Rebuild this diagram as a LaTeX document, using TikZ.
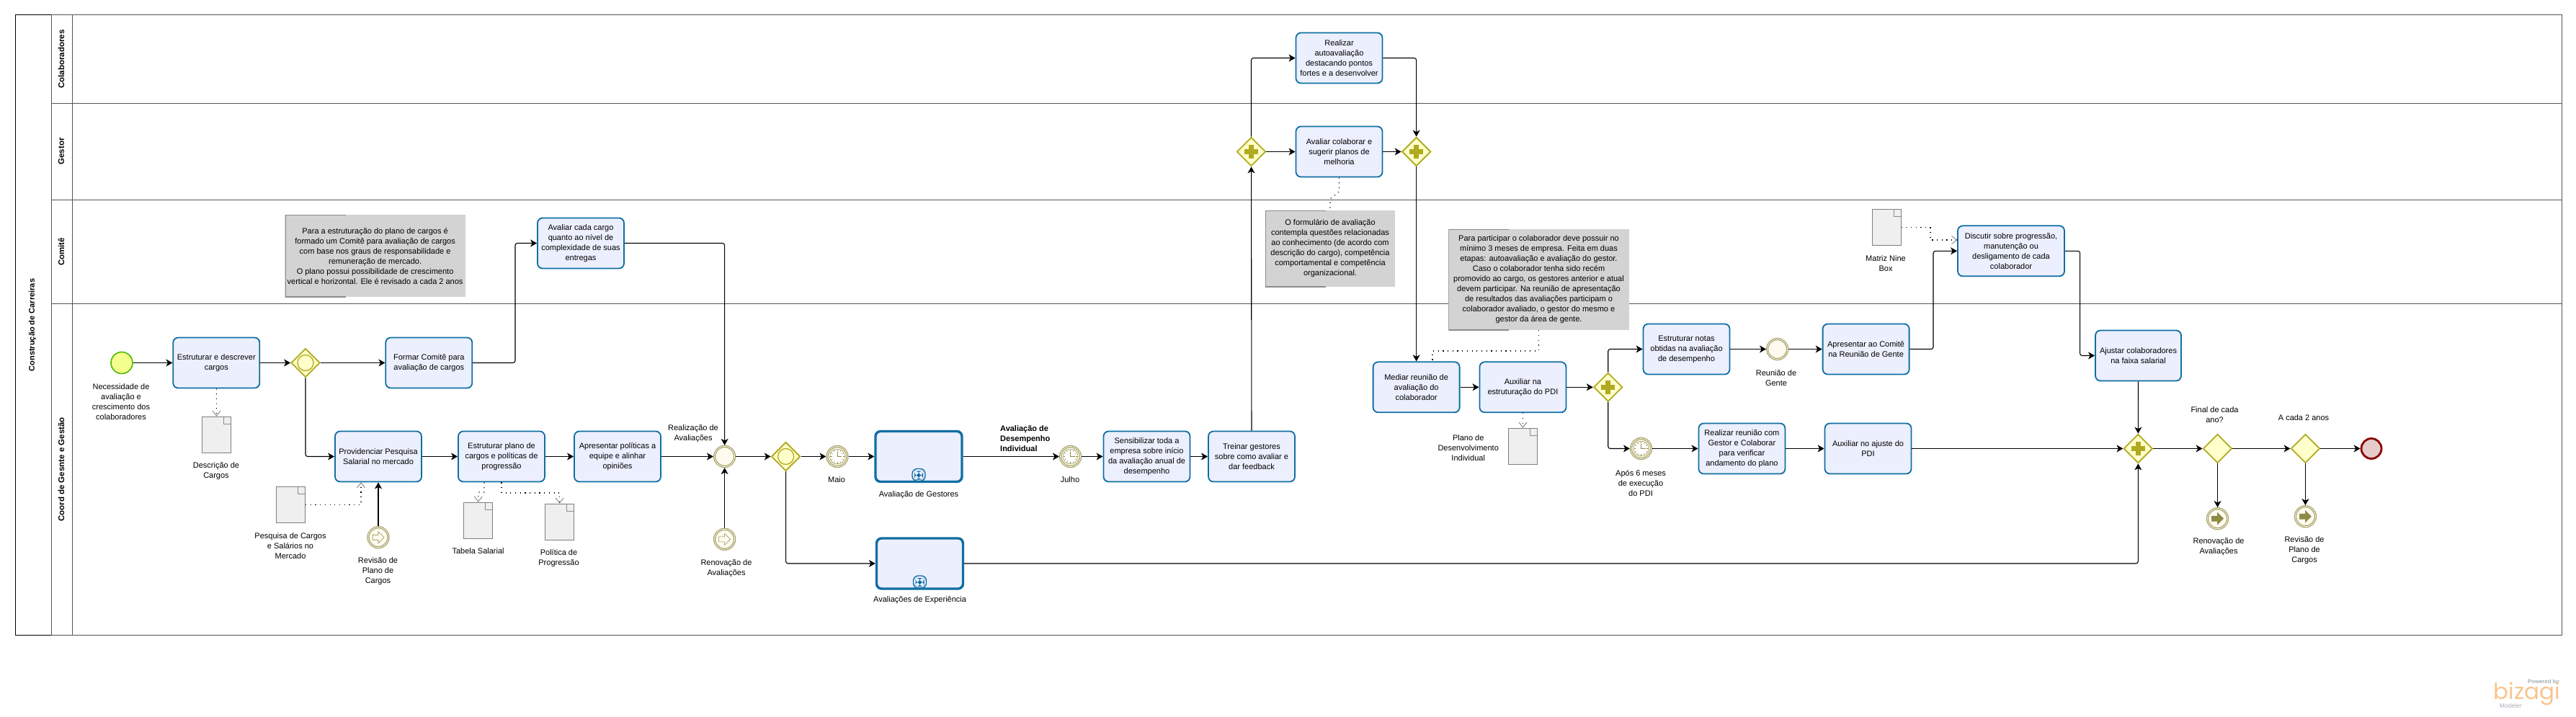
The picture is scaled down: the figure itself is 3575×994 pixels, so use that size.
\documentclass[tikz,border=0pt]{standalone}
\usepackage{fontspec}
\setmainfont{Liberation Sans}
\newfontfamily\logofont{Poppins}
\usetikzlibrary{arrows.meta,shapes.geometric,shapes.misc}

\definecolor{taskfill}{HTML}{ECEFFE}
\definecolor{taskline}{HTML}{0F6EA3}
\definecolor{gwfill}{HTML}{FFFFCC}
\definecolor{gwline}{HTML}{B0AA20}
\definecolor{evring}{HTML}{A39D5C}
\definecolor{evfill}{HTML}{FFFBF0}
\definecolor{evicon}{HTML}{8F8A45}
\definecolor{lanegray}{HTML}{555555}
\definecolor{notefill}{HTML}{D3D3D3}
\definecolor{notegray}{HTML}{8C8C8C}
\definecolor{docfill}{HTML}{EFEFEF}
\definecolor{logoorange}{HTML}{F9C48F}
\definecolor{logogray}{HTML}{A6AEB6}

\tikzset{
  base/.style={align=center,font=\fontsize{11}{14}\selectfont},
  lbl/.style={base,inner sep=0pt},
  lanelbl/.style={inner sep=0pt,rotate=90,font=\fontsize{11.5}{14}\selectfont\bfseries},
  taskbox/.style={base,rectangle,rounded corners=7pt,draw=taskline,fill=taskfill,line width=1.8pt,
    minimum width=120pt,minimum height=70pt,inner sep=0pt},
  subbox/.style={taskbox,line width=3.4pt,path picture={
    \draw[taskline,line width=1.4pt,fill=taskfill] ([xshift=-9pt,yshift=1pt]path picture bounding box.south)
      rectangle ([xshift=9pt,yshift=18pt]path picture bounding box.south);
    \fill[taskline] ([xshift=-1.8pt,yshift=3pt]path picture bounding box.south) rectangle ([xshift=1.8pt,yshift=15pt]path picture bounding box.south);
    \fill[taskline] ([xshift=-6pt,yshift=7.2pt]path picture bounding box.south) rectangle ([xshift=6pt,yshift=10.8pt]path picture bounding box.south);}},
  notebox/.style={base,rectangle,fill=notefill,inner sep=0pt,path picture={
    \draw[notegray,line width=2pt] ([xshift=84pt]path picture bounding box.north west) -- (path picture bounding box.north west)
      -- (path picture bounding box.south west) -- ([xshift=84pt]path picture bounding box.south west);}},
  docbox/.style={chamfered rectangle,chamfered rectangle corners=north east,chamfered rectangle xsep=10pt,
    chamfered rectangle ysep=10pt,draw=notegray!90!black,fill=docfill,line width=1pt,minimum width=40pt,minimum height=50pt,
    inner sep=0pt,path picture={
    \draw[notegray,line width=.6pt] ([xshift=-10pt]path picture bounding box.north east) -- ++(0,-10pt) -- ++(10pt,0);}},
  gwbox/.style={diamond,aspect=1,draw=gwline,fill=gwfill,line width=1.8pt,minimum width=40pt,minimum height=40pt,inner sep=0pt},
  gwplus/.style={gwbox,path picture={
    \fill[gwline] ([xshift=-3.5pt,yshift=-9.5pt]path picture bounding box.center) rectangle ([xshift=3.5pt,yshift=9.5pt]path picture bounding box.center);
    \fill[gwline] ([xshift=-9.5pt,yshift=-3.5pt]path picture bounding box.center) rectangle ([xshift=9.5pt,yshift=3.5pt]path picture bounding box.center);}},
  gwring/.style={gwbox,path picture={
    \draw[gwline,line width=1.3pt] (path picture bounding box.center) circle (11pt);}},
  startev/.style={circle,draw=green!55!black!60!lime,fill=lime!35!yellow!45!white,line width=1.6pt,minimum size=30pt,inner sep=0pt},
  endev/.style={circle,draw=red!55!black,fill=red!35!gray!30!white,line width=2.8pt,minimum size=28pt,inner sep=0pt},
  catchev/.style={circle,draw=evring,fill=evfill,double=white,double distance=.8pt,line width=1.2pt,minimum size=28pt,inner sep=0pt,outer sep=1.6pt},
  timerev/.style={catchev,path picture={
    \begin{scope}[shift={(path picture bounding box.center)}]
      \draw[evicon,line width=.5pt,fill=white] (0,0) circle (10.5pt);
      \foreach \ang in {0,30,...,330} \draw[evicon,line width=.5pt] (\ang:7.5) -- (\ang:10);
      \draw[evicon,line width=.5pt] (0,0) -- (0,-7) (0,0) -- (6,0);
    \end{scope}}},
  linkev/.style={catchev,path picture={
    \begin{scope}[shift={(path picture bounding box.center)}]
      \draw[evicon,line width=.6pt,fill=#1] (-8,-3.5) -- (0,-3.5) -- (0,-8) -- (8,0) -- (0,8) -- (0,3.5) -- (-8,3.5) -- cycle;
    \end{scope}}},
  flowline/.style={black,line width=1.1pt,rounded corners=3pt,-{Stealth[length=9pt,width=10pt,inset=2.5pt]}},
  assocline/.style={black,line width=1.1pt,dash pattern=on 1.2pt off 5.5pt,
    -{Straight Barb[length=7pt,width=11pt,line width=.6pt,color=lanegray]}},
  noteline/.style={black,line width=1.1pt,dash pattern=on 1.2pt off 5.5pt},
  laneline/.style={lanegray,line width=1pt}
}

\begin{document}
\begin{tikzpicture}[x=1pt,y=-1pt]
  \useasboundingbox (0,0) rectangle (3575,994);
  % pool and lanes
  \draw[laneline] (21,20) rectangle (3555,881);
  \draw[laneline] (71,20) -- (71,881) (100.5,20) -- (100.5,881);
  \draw[laneline] (71,143) -- (3555,143) (71,277) -- (3555,277) (71,421) -- (3555,421);
  \draw[black,line width=1pt] (71,20) -- (21,20) -- (21,881) -- (71,881);
  \node[lanelbl,font=\fontsize{11}{14}\selectfont\bfseries] (pooltitle) at (45,451) {Construção de Carreiras};
  \node[lanelbl] (lanecol) at (85,82) {Colaboradores};
  \node[lanelbl] (lanegest) at (85,210) {Gestor};
  \node[lanelbl] (lanecom) at (85,349.5) {Comitê};
  \node[lanelbl] (lanecoord) at (85,651.5) {Coord de Gesnte e Gestão};

  % notes
  \node[notebox,minimum width=250pt,minimum height=114pt] (nota) at (520.6,355) {Para a estruturação do plano de cargos é\\formado um Comitê para avaliação de cargos\\com base nos graus de responsabilidade e\\remuneração de mercado.\\O plano possui possibilidade de crescimento\\vertical e horizontal. Ele é revisado a cada 2 anos};
  \node[notebox,minimum width=180pt,minimum height=106pt] (notb) at (1846,345) {O formulário de avaliação\\contempla questões relacionadas\\ao conhecimento (de acordo com\\descrição do cargo), competência\\comportamental e competência\\organizacional.};
  \node[notebox,minimum width=250.5pt,minimum height=140pt] (notc) at (2135.5,388) {Para participar o colaborador deve possuir no\\mínimo 3 meses de empresa. Feita em duas\\etapas: autoavaliação e avaliação do gestor.\\Caso o colaborador tenha sido recém\\promovido ao cargo, os gestores anterior e atual\\devem participar. Na reunião de apresentação\\de resultados das avaliações participam o\\colaborador avaliado, o gestor do mesmo e\\gestor da área de gente.};

  % events
  \node[startev] (inicio) at (169,503.5) {};
  \node[catchev] (evreal) at (1005.6,633.5) {};
  \node[linkev=evfill] (evrenov) at (1005.6,748.3) {};
  \node[linkev=evfill] (evrevis) at (525,745.7) {};
  \node[timerev] (evmaio) at (1162,633.5) {};
  \node[timerev] (evjulho) at (1485.6,633.5) {};
  \node[catchev] (evgente) at (2466.6,484.5) {};
  \node[timerev] (evapos) at (2277.5,622.5) {};
  \node[linkev=evicon] (evrenovb) at (3077.5,719.7) {};
  \node[linkev=evicon] (evrevisb) at (3199.4,716.7) {};
  \node[endev] (fim) at (3291,622.5) {};

  % gateways
  \node[gwring] (gwa) at (424,503.5) {};
  \node[gwring] (gwb) at (1090.6,633.5) {};
  \node[gwplus] (gwc) at (1736.5,210.5) {};
  \node[gwplus] (gwd) at (1965.6,210.5) {};
  \node[gwplus] (gwe) at (2231.7,537.3) {};
  \node[gwplus] (gwf) at (2967.3,622.5) {};
  \node[gwbox] (gwg) at (3077.5,622.5) {};
  \node[gwbox] (gwh) at (3199.4,622.5) {};

  % tasks
  \node[taskbox] (estc) at (300.3,503.5) {Estruturar e descrever\\cargos};
  \node[taskbox] (form) at (595.3,503.5) {Formar Comitê para\\avaliação de cargos};
  \node[taskbox] (avac) at (806,337.5) {Avaliar cada cargo\\quanto ao nível de\\complexidade de suas\\entregas};
  \node[taskbox] (prov) at (525,633.5) {Providenciar Pesquisa\\Salarial no mercado};
  \node[taskbox] (estp) at (696,633.5) {Estruturar plano de\\cargos e políticas de\\progressão};
  \node[taskbox] (apre) at (857,633.5) {Apresentar políticas a\\equipe e alinhar\\opiniões};
  \node[subbox] (subg) at (1275,633.5) {};
  \node[subbox] (sube) at (1276.5,782) {};
  \node[taskbox] (sens) at (1591.5,633.5) {Sensibilizar toda a\\empresa sobre início\\da avaliação anual de\\desempenho};
  \node[taskbox] (trei) at (1737,633.5) {Treinar gestores\\sobre como avaliar e\\dar feedback};
  \node[taskbox] (real) at (1858.5,80.5) {Realizar\\autoavaliação\\destacando pontos\\fortes e a desenvolver};
  \node[taskbox] (avcl) at (1858.5,210.5) {Avaliar colaborar e\\sugerir planos de\\melhoria};
  \node[taskbox] (medi) at (1965.6,537.3) {Mediar reunião de\\avaliação do\\colaborador};
  \node[taskbox] (auxi) at (2113.4,537.3) {Auxiliar na\\estruturação do PDI};
  \node[taskbox] (estn) at (2340.5,484.5) {Estruturar notas\\obtidas na avaliação\\de desempenho};
  \node[taskbox] (apco) at (2589.6,484.5) {Apresentar ao Comitê\\na Reunião de Gente};
  \node[taskbox] (reun) at (2417.4,622.5) {Realizar reunião com\\Gestor e Colaborar\\para verificar\\andamento do plano};
  \node[taskbox] (auaj) at (2592.5,622.5) {Auxiliar no ajuste do\\PDI};
  \node[taskbox,minimum width=148pt] (disc) at (2791,348.3) {Discutir sobre progressão,\\manutenção ou\\desligamento de cada\\colaborador};
  \node[taskbox,minimum width=119pt] (ajus) at (2967.5,493.5) {Ajustar colaboradores\\na faixa salarial};

  % documents
  \node[docbox] (docd) at (300.5,603) {};
  \node[docbox] (docp) at (403.5,700.3) {};
  \node[docbox] (doct) at (663.6,722) {};
  \node[docbox] (docg) at (776.7,724) {};
  \node[docbox] (docm) at (2113.4,619) {};
  \node[docbox] (docn) at (2618,315.5) {};

  % labels
  \node[lbl] (tinicio) at (168,558) {Necessidade de\\avaliação e\\crescimento dos\\colaboradores};
  \node[lbl] (tdocd) at (300,654) {Descrição de\\Cargos};
  \node[lbl] (tdocp) at (403,758) {Pesquisa de Cargos\\e Salários no\\Mercado};
  \node[lbl] (trevis) at (524.5,793) {Revisão de\\Plano de\\Cargos};
  \node[lbl] (tdoct) at (663.6,765) {Tabela Salarial};
  \node[lbl] (tdocg) at (775.5,775) {Política de\\Progressão};
  \node[lbl] (treal) at (962,602) {Realização de\\Avaliações};
  \node[lbl] (trenov) at (1008,789) {Renovação de\\Avaliações};
  \node[lbl] (tmaio) at (1161,666) {Maio};
  \node[lbl] (tsubg) at (1275,687) {Avaliação de Gestores};
  \node[lbl] (tsube) at (1276.6,833) {Avaliações de Experiência};
  \node[lbl,anchor=west,align=left,font=\fontsize{11}{14}\selectfont\bfseries] (tdes) at (1388,609) {Avaliação de\\Desempenho\\Individual};
  \node[lbl] (tjulho) at (1485,666) {Julho};
  \node[lbl] (tdocm) at (2037.7,622) {Plano de\\Desenvolvimento\\Individual};
  \node[lbl] (tapos) at (2277,670) {Após 6 meses\\de execução\\do PDI};
  \node[lbl] (tgente) at (2465,525) {Reunião de\\Gente};
  \node[lbl] (tdocn) at (2617,366) {Matriz Nine\\Box};
  \node[lbl] (tfinal) at (3073.5,576) {Final de cada\\ano?};
  \node[lbl] (tcada) at (3197,580) {A cada 2 anos};
  \node[lbl] (trenovb) at (3079,759) {Renovação de\\Avaliações};
  \node[lbl] (trevisb) at (3198,764) {Revisão de\\Plano de\\Cargos};

  % elbow points
  \coordinate (ea) at (715,337.5);
  \coordinate (eb) at (2683,348.3);
  \coordinate (ec) at (2886.6,493.5);
  \coordinate (da) at (2679,333);
  \coordinate (db) at (664,683);
  \coordinate (dc) at (776.7,684);
  \coordinate (dd) at (1858.5,266);
  \coordinate (de) at (1846,276);
  \coordinate (df) at (1988,487);

  % sequence flows
  \draw[flowline] (inicio) -- (estc);
  \draw[flowline] (estc) -- (gwa);
  \draw[flowline] (gwa) -- (form);
  \draw[flowline] (gwa.south) |- (prov);
  \draw[flowline] (form) -| (ea) -- (avac);
  \draw[flowline] (avac) -| (evreal.north);
  \draw[flowline] (prov) -- (estp);
  \draw[flowline] (estp) -- (apre);
  \draw[flowline] (apre) -- (evreal);
  \draw[flowline] (evrevis) -- (prov);
  \draw[flowline] (evrenov) -- (evreal);
  \draw[flowline] (evreal) -- (gwb);
  \draw[flowline] (gwb) -- (evmaio);
  \draw[flowline] (gwb.south) |- (sube);
  \draw[flowline] (evmaio) -- (subg);
  \draw[flowline] (subg) -- (evjulho);
  \draw[flowline] (evjulho) -- (sens);
  \draw[flowline] (sens) -- (trei);
  \draw[flowline] (trei) -- (gwc);
  \draw[flowline] (gwc.north) |- (real);
  \draw[flowline] (gwc) -- (avcl);
  \draw[flowline] (real) -| (gwd.north);
  \draw[flowline] (avcl) -- (gwd);
  \draw[flowline] (gwd) -- (medi);
  \draw[flowline] (medi) -- (auxi);
  \draw[flowline] (auxi) -- (gwe);
  \draw[flowline] (gwe.north) |- (estn);
  \draw[flowline] (gwe.south) |- (evapos);
  \draw[flowline] (estn) -- (evgente);
  \draw[flowline] (evgente) -- (apco);
  \draw[flowline] (evapos) -- (reun);
  \draw[flowline] (reun) -- (auaj);
  \draw[flowline] (apco) -| (eb) -- (disc);
  \draw[flowline] (disc) -| (ec) -- (ajus);
  \draw[flowline] (ajus) -- (gwf);
  \draw[flowline] (auaj) -- (gwf);
  \draw[flowline] (sube) -| (gwf.south);
  \draw[flowline] (gwf) -- (gwg);
  \draw[flowline] (gwg) -- (gwh);
  \draw[flowline] (gwh) -- (fim);
  \draw[flowline] (gwg) -- (evrenovb);
  \draw[flowline] (gwh) -- (evrevisb);

  % associations
  \draw[assocline] (estc) -- (docd);
  \draw[assocline] (docp.east) -| ([xshift=-24pt]prov.south);
  \draw[assocline] ([xshift=-24pt]estp.south) |- (db) -- (doct.north);
  \draw[assocline] (estp.south) |- (dc) -- (docg.north);
  \draw[assocline] (auxi) -- (docm);
  \draw[assocline] (docn.east) -| (da) -- (da -| disc.west);
  \draw[noteline] (avcl.south) -- (dd) -- (de) -- (notb.north);
  \draw[noteline] (notc.south) |- (df) -- (df |- medi.north);

  % logo
  \node[inner sep=0pt,anchor=east,text=logogray,font=\fontsize{7.8}{9}\selectfont\bfseries] (logoa) at (3552,946) {Powered by};
  \node[inner sep=0pt,anchor=east,text=logoorange,font=\logofont\fontsize{31}{31}\selectfont] (logob) at (3553,963) {bizagi};
  \node[inner sep=0pt,anchor=west,text=logogray,font=\fontsize{8.5}{9}\selectfont] (logoc) at (3469,979) {Modeler};
\end{tikzpicture}
\end{document}
